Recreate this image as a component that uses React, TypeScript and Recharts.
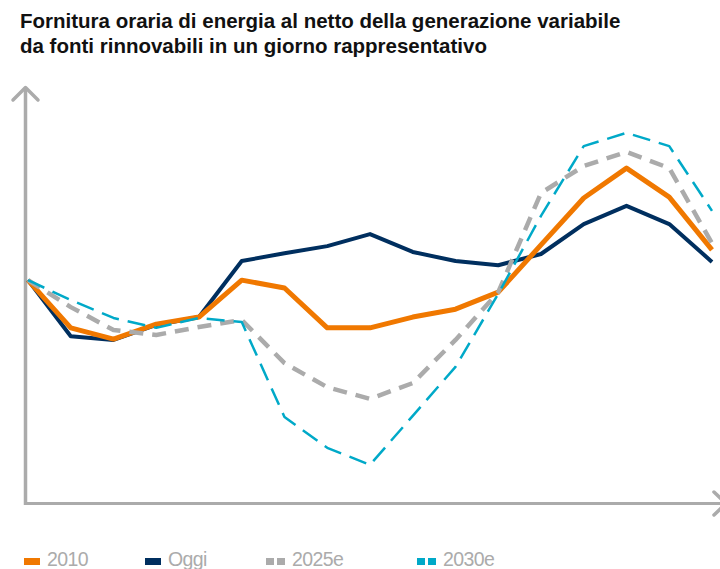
import { LineChart, Line, XAxis, YAxis } from 'recharts';

// Punti orari (etichette non mostrate nel grafico originale)
const ORE = ['1', '2', '3', '4', '5', '6', '7', '8', '9', '10', '11', '12', '13', '14', '15', '16', '17'];

const SERIE_2010 = [53.7, 42.2, 39.5, 43.1, 44.8, 53.7, 51.8, 42.2, 42.2, 44.8, 46.7, 50.8, 62.2, 73.5, 80.7, 73.7, 61.0];
const SERIE_OGGI = [53.7, 40.2, 39.3, 42.9, 44.8, 58.3, 60.2, 61.9, 64.8, 60.5, 58.3, 57.3, 60.0, 67.2, 71.6, 67.2, 58.1];
const SERIE_2025 = [53.7, 47.2, 41.7, 40.5, 42.4, 44.1, 33.7, 27.9, 25.1, 28.9, 39.3, 50.8, 74.7, 81.2, 84.6, 80.7, 62.6];
const SERIE_2030 = [53.7, 48.9, 44.6, 42.2, 44.6, 43.6, 20.7, 13.3, 9.2, 21.0, 32.8, 50.4, 69.2, 86.0, 89.2, 86.0, 70.4];

const data = ORE.map((ora, i) => ({
  ora,
  y2010: SERIE_2010[i],
  oggi: SERIE_OGGI[i],
  y2025: SERIE_2025[i],
  y2030: SERIE_2030[i],
}));

const AXIS = '#ABABAB';

const series = [
  { key: 'oggi', name: 'Oggi', color: '#002F5F', width: 4, dash: undefined },
  { key: 'y2010', name: '2010', color: '#F07800', width: 5, dash: undefined },
  { key: 'y2025', name: '2025e', color: '#ABABAB', width: 4.5, dash: '14 9' },
  { key: 'y2030', name: '2030e', color: '#00A9C8', width: 2.5, dash: '18 9' },
];

const legendOrder = [
  { name: '2010', color: '#F07800', dashed: false, left: 24 },
  { name: 'Oggi', color: '#002F5F', dashed: false, left: 145 },
  { name: '2025e', color: '#ABABAB', dashed: true, left: 266 },
  { name: '2030e', color: '#00A9C8', dashed: true, left: 417 },
];

const Swatch = ({ color, dashed }: { color: string; dashed: boolean }) => {
  if (!dashed) {
    return <span style={{ display: 'inline-block', width: 16, height: 7, background: color }} />;
  }
  return (
    <span style={{ display: 'inline-flex', gap: 3 }}>
      <span style={{ display: 'inline-block', width: 8, height: 7, background: color }} />
      <span style={{ display: 'inline-block', width: 8, height: 7, background: color }} />
    </span>
  );
};

export default function App() {
  return (
    <div
      style={{
        position: 'absolute',
        left: 0,
        top: 0,
        width: 720,
        height: 569,
        background: '#fff',
        overflow: 'hidden',
        fontFamily: '"Liberation Sans", Arial, sans-serif',
      }}
    >
      <div
        style={{
          position: 'absolute',
          left: 20,
          top: 8,
          fontSize: 20.5,
          lineHeight: '25px',
          fontWeight: 700,
          color: '#111',
          whiteSpace: 'nowrap',
        }}
      >
        Fornitura oraria di energia al netto della generazione variabile
        <br />
        da fonti rinnovabili in un giorno rappresentativo
      </div>

      {/* assi con frecce */}
      <svg
        width={720}
        height={569}
        style={{ position: 'absolute', left: 0, top: 0, pointerEvents: 'none' }}
      >
        <line x1={25.5} y1={88} x2={25.5} y2={505} stroke={AXIS} strokeWidth={3.5} />
        <line x1={24} y1={503.5} x2={725} y2={503.5} stroke={AXIS} strokeWidth={3} />
        <polyline
          points="13,100 25.5,87.5 38,100"
          fill="none"
          stroke={AXIS}
          strokeWidth={3.5}
          strokeLinecap="round"
          strokeLinejoin="round"
        />
        <polyline
          points="714,492 726,503.5 714,515"
          fill="none"
          stroke={AXIS}
          strokeWidth={3.5}
          strokeLinecap="round"
          strokeLinejoin="round"
        />
      </svg>

      <div style={{ position: 'absolute', left: 0, top: 0 }}>
        <LineChart width={720} height={569} data={data} margin={{ top: 88, right: 0, bottom: 66, left: 25 }}>
          <XAxis dataKey="ora" hide padding={{ left: 3, right: 8 }} />
          <YAxis hide domain={[0, 100]} />
          {series.map((s) => (
            <Line
              key={s.key}
              type="linear"
              dataKey={s.key}
              name={s.name}
              stroke={s.color}
              strokeWidth={s.width}
              strokeDasharray={s.dash}
              dot={false}
              activeDot={false}
              strokeLinejoin="round"
              isAnimationActive={false}
            />
          ))}
        </LineChart>
      </div>

      {legendOrder.map((l) => (
        <div
          key={l.name}
          style={{
            position: 'absolute',
            left: l.left,
            top: 549,
            height: 20,
            display: 'flex',
            alignItems: 'flex-start',
          }}
        >
          <span style={{ marginTop: 9, display: 'inline-flex' }}>
            <Swatch color={l.color} dashed={l.dashed} />
          </span>
          <span
            style={{
              marginLeft: 7,
              fontSize: 19.5,
              lineHeight: '20px',
              color: '#ABABAB',
              letterSpacing: -0.6,
            }}
          >
            {l.name}
          </span>
        </div>
      ))}
    </div>
  );
}
